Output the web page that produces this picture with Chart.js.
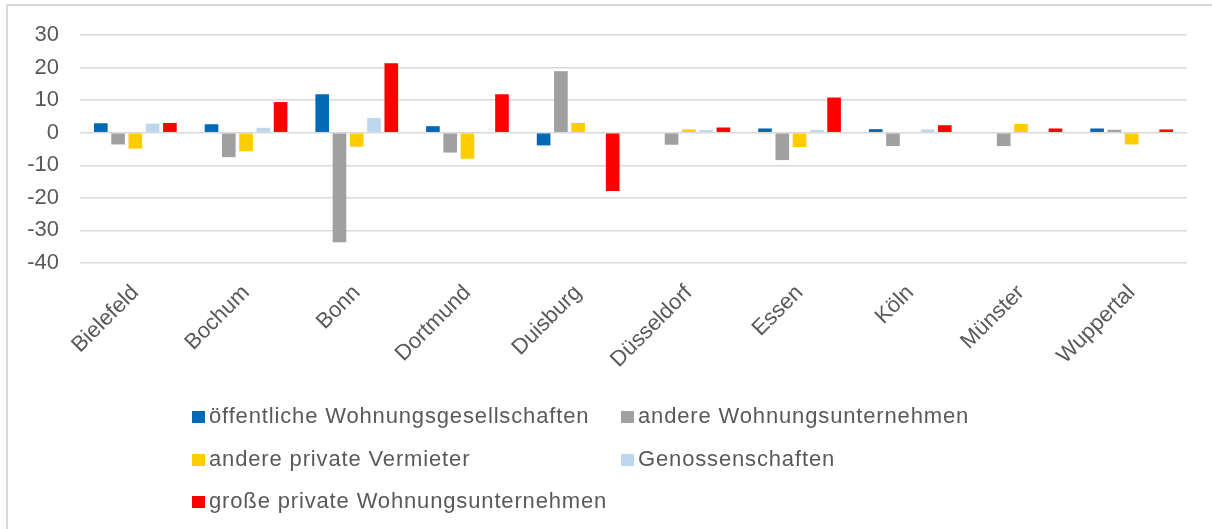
<!DOCTYPE html>
<html>
<head>
<meta charset="utf-8">
<script src="https://cdn.jsdelivr.net/npm/chart.js@4.4.1/dist/chart.umd.min.js"></script>
<style>
	body { margin: 0; background: #fff; }
	#wrap { position: relative; width: 1212px; height: 529px; overflow: hidden; }
	#frame { position: absolute; left: 6px; top: 4px; width: 1300px; height: 600px; border: 2px solid #d9d9d9; }
	#chart { position: absolute; left: 0; top: 0; }
	#legend { position: absolute; left: 0; top: 0; font-family: "Liberation Sans", Arial, sans-serif; font-size: 22px; letter-spacing: 0.85px; color: #595959; }
	.item { position: absolute; white-space: nowrap; line-height: 24px; }
	.item span.box { display: inline-block; width: 13px; height: 12px; margin-right: 4px; vertical-align: 0px; }
</style>
</head>
<body>
<div id="wrap">
	<div id="frame"></div>
	<canvas id="chart" width="1212" height="529"></canvas>
	<div id="legend"></div>
</div>
<script>
// Categories and series
const cities = ['Bielefeld', 'Bochum', 'Bonn', 'Dortmund', 'Duisburg', 'Düsseldorf', 'Essen', 'Köln', 'Münster', 'Wuppertal'];
const oeffentliche = [2.9, 2.6, 11.8, 2.0, -3.9, 0, 1.3, 1.1, 0, 1.3];
const andereUnternehmen = [-3.6, -7.5, -33.6, -6.1, 18.9, -3.7, -8.4, -4.1, -4.1, 0.9];
const anderePrivate = [-4.9, -5.7, -4.3, -8.0, 3.0, 1.0, -4.4, 0, 2.7, -3.6];
const genossenschaften = [2.8, 1.5, 4.5, 0, 0, 0.8, 0.8, 1.0, 0, 0];
const grossePrivate = [3.0, 9.4, 21.3, 11.8, -17.9, 1.6, 10.8, 2.3, 1.3, 1.0];
const yTicks = [30, 20, 10, 0, -10, -20, -30, -40];

const series = [
	{label: 'öffentliche Wohnungsgesellschaften', data: oeffentliche, color: '#0069b4'},
	{label: 'andere Wohnungsunternehmen', data: andereUnternehmen, color: '#a0a0a0'},
	{label: 'andere private Vermieter', data: anderePrivate, color: '#ffcc00'},
	{label: 'Genossenschaften', data: genossenschaften, color: '#bdd7ee'},
	{label: 'große private Wohnungsunternehmen', data: grossePrivate, color: '#ff0000'}
];

const textColor = '#595959';
const font = {family: '"Liberation Sans", Arial, sans-serif', size: 22};

new Chart(document.getElementById('chart'), {
	type: 'bar',
	data: {
		labels: cities,
		datasets: series.map(s => ({
			label: s.label,
			data: s.data,
			backgroundColor: s.color,
			borderWidth: 0,
			categoryPercentage: 0.78,
			barPercentage: 0.79
		}))
	},
	options: {
		responsive: false,
		animation: false,
		layout: {
			padding: {top: 35, right: 25, left: 0, bottom: 0}
		},
		plugins: {
			legend: {display: false},
			tooltip: {enabled: false}
		},
		scales: {
			x: {
				grid: {display: false},
				border: {display: false},
				ticks: {
					color: textColor,
					font: font,
					minRotation: 45,
					maxRotation: 45,
					padding: 9
				},
				afterFit: function (scale) {
					scale.height = 266;
				}
			},
			y: {
				min: Math.min(...yTicks),
				max: Math.max(...yTicks),
				afterBuildTicks: function (scale) {
					scale.ticks = yTicks.map(v => ({value: v}));
				},
				grid: {
					color: '#d9d9d9',
					lineWidth: 1.5,
					drawTicks: false
				},
				border: {display: false},
				ticks: {
					color: textColor,
					font: font,
					padding: 21
				},
				afterFit: function (scale) {
					scale.width = 80;
				}
			}
		}
	}
});

// Legend laid out in two columns like the original
const legendPos = [[192, 404], [621, 404], [192, 447], [621, 447], [192, 489]];
const legend = document.getElementById('legend');
series.forEach((s, i) => {
	let item = document.createElement('div');
	item.className = 'item';
	item.style.left = legendPos[i][0] + 'px';
	item.style.top = legendPos[i][1] + 'px';
	item.innerHTML = '<span class="box" style="background:' + s.color + '"></span>' + s.label;
	legend.appendChild(item);
});
</script>
</body>
</html>
